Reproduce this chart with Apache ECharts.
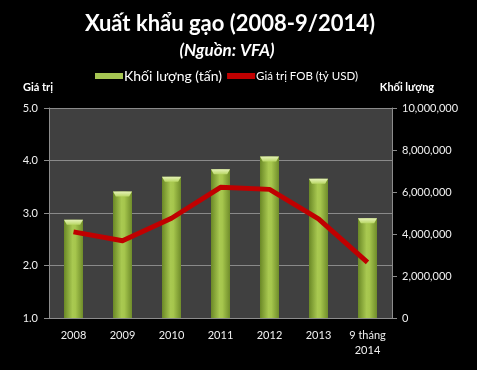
<!DOCTYPE html>
<html><head><meta charset="utf-8">
<script src="https://cdn.jsdelivr.net/npm/echarts@6/dist/echarts.min.js"></script>
<style>html,body{margin:0;padding:0;background:#000}#c{width:477px;height:370px}</style>
</head><body><div id="c"></div>
<script>
var categories = ['2008','2009','2010','2011','2012','2013','9 tháng\n2014'];
var volume = [4680000, 6020000, 6730000, 7080000, 7690000, 6630000, 4750000];
var fobValue = [2.64, 2.47, 2.90, 3.49, 3.45, 2.89, 2.06];
var leftTicks = {min: 1, max: 5, interval: 1};
var rightTicks = {min: 0, max: 10000000, interval: 2000000};

var chart = echarts.init(document.getElementById('c'), null, {renderer: 'canvas'});
var fontF = 'Lato, "DejaVu Sans", sans-serif';
var labelColor = '#f0f0f0';
var axisColor = '#8c8c8c';
chart.setOption({
  backgroundColor: '#000000',
  animation: false,
  title: [{
    text: 'Xuất khẩu gạo (2008-9/2014)',
    left: 225, top: 8, textAlign: 'center',
    textStyle: {color: '#ffffff', fontFamily: fontF, fontWeight: 'bold', fontSize: 22}
  }, {
    text: '(Nguồn: VFA)',
    left: 222, top: 37, textAlign: 'center',
    textStyle: {color: '#ffffff', fontFamily: fontF, fontWeight: 'bold', fontStyle: 'italic', fontSize: 17}
  }],
  legend: {
    left: 90, top: 64, itemWidth: 28, itemHeight: 6, itemGap: 5, icon: 'rect',
    data: [
      {name: 'Khối lượng (tấn)', itemStyle: {color: '#a6c552'}, textStyle: {fontSize: 14, color: '#ffffff'}},
      {name: 'Giá trị FOB (tỷ USD)', itemStyle: {color: '#c00000'}, textStyle: {fontSize: 11.5, color: '#ffffff'}}
    ],
    textStyle: {color: '#ffffff', fontFamily: fontF, padding: [0, 0, 0, -4]}
  },
  grid: {left: 49, right: 85, top: 108, bottom: 52, show: true, backgroundColor: '#404040', borderWidth: 0},
  xAxis: {
    type: 'category', data: categories,
    axisLine: {lineStyle: {color: axisColor}},
    axisTick: {lineStyle: {color: axisColor}, length: 5},
    axisLabel: {color: labelColor, fontFamily: fontF, fontSize: 11, margin: 10, lineHeight: 15}
  },
  yAxis: [{
    type: 'value', min: leftTicks.min, max: leftTicks.max, interval: leftTicks.interval,
    name: 'Giá trị', nameGap: 15,
    nameTextStyle: {color: '#ffffff', fontFamily: fontF, fontWeight: 'bold', fontSize: 11, align: 'right', padding: [0, -4, 0, 0]},
    axisLine: {show: true, lineStyle: {color: axisColor}},
    axisTick: {show: true, length: 5, lineStyle: {color: axisColor}},
    axisLabel: {color: labelColor, fontFamily: fontF, fontSize: 11, margin: 11,
      formatter: function (v) { return v.toFixed(1); }},
    splitLine: {lineStyle: {color: '#8a8a8a', width: 1}}
  }, {
    type: 'value', position: 'right', min: rightTicks.min, max: rightTicks.max, interval: rightTicks.interval,
    name: 'Khối lượng', nameGap: 15,
    nameTextStyle: {color: '#ffffff', fontFamily: fontF, fontWeight: 'bold', fontSize: 11, align: 'center', padding: [0, 0, 0, 30]},
    axisLine: {show: true, lineStyle: {color: axisColor}},
    axisTick: {show: true, length: 5, lineStyle: {color: axisColor}},
    axisLabel: {color: labelColor, fontFamily: fontF, fontSize: 11, margin: 10,
      formatter: function (v) { return v.toLocaleString('en-US'); }},
    splitLine: {show: false}
  }],
  series: [{
    name: 'Khối lượng (tấn)', type: 'bar', yAxisIndex: 1, data: volume, barWidth: 19,
    itemStyle: {color: new echarts.graphic.LinearGradient(0, 0, 1, 0, [
      {offset: 0, color: '#6a8826'}, {offset: 0.45, color: '#a9c951'}, {offset: 0.6, color: '#a6c64d'}, {offset: 1, color: '#6f8c2a'}
    ])},
    z: 2
  }, {
    type: 'pictorialBar', yAxisIndex: 1, data: volume, symbol: 'path://M0,0 L20,0 L17,5 L3,5 Z',
    symbolSize: [19, 5], symbolPosition: 'end', symbolOffset: [0, 0], barWidth: 19,
    itemStyle: {color: new echarts.graphic.LinearGradient(0, 0, 0, 1, [
      {offset: 0, color: '#e6f2b8'}, {offset: 1, color: '#b9d766'}
    ])},
    z: 3, silent: true
  }, {
    name: 'Giá trị FOB (tỷ USD)', type: 'line', yAxisIndex: 0, data: fobValue,
    symbol: 'none', lineStyle: {color: '#c00000', width: 5, join: 'round'}, itemStyle: {color: '#c00000'},
    z: 5
  }]
});
</script></body></html>
